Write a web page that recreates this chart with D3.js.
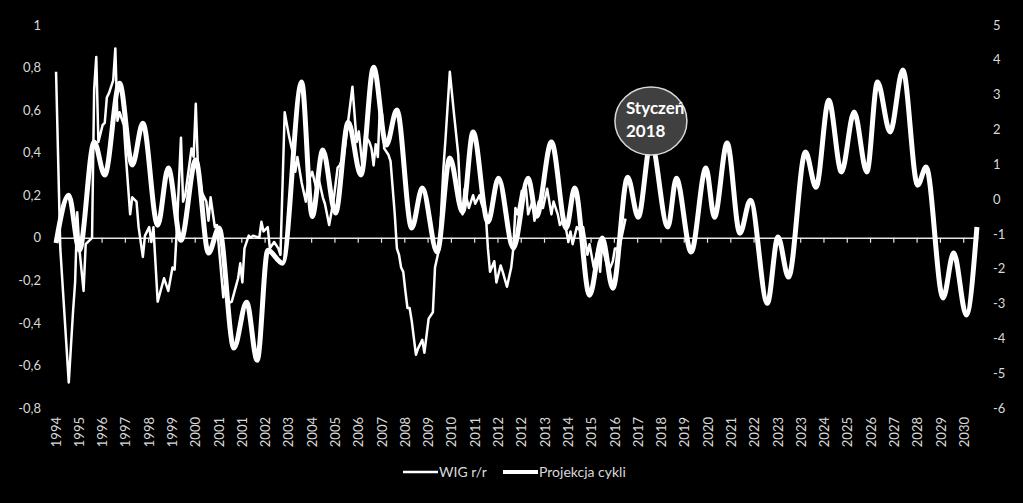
<!DOCTYPE html>
<html>
<head>
<meta charset="utf-8">
<script src="https://cdn.jsdelivr.net/npm/d3@7"></script>
<style>
    body { margin: 0; background: #000; }
    svg { display: block; }
</style>
</head>
<body>
<div id="chart"></div>
<script>
// category labels, one every 11 months (Excel label interval)
const xLabels = ['1994', '1995', '1996', '1997', '1998', '1999', '2000', '2001', '2001', '2002',
    '2003', '2004', '2005', '2006', '2007', '2008', '2009', '2010', '2011', '2012',
    '2012', '2013', '2014', '2015', '2016', '2017', '2018', '2019', '2020', '2021',
    '2022', '2023', '2023', '2024', '2025', '2026', '2027', '2028', '2029', '2030'];
const monthCount = 436;   // monthly categories, Aug 1994 .. Nov 2030
const labelStep = 11;

const leftTicks = [1, 0.8, 0.6, 0.4, 0.2, 0, -0.2, -0.4, -0.6, -0.8];
const rightTicks = [5, 4, 3, 2, 1, 0, -1, -2, -3, -4, -5, -6];

// WIG r/r  [month index, value]  (left axis)
const wigData = [
    [0, 0.78], [2, -0.05], [6, -0.68], [8, -0.35], [9, -0.21], [10, 0.12], [11, -0.05], [13, -0.25],
    [14, -0.03], [17, 0.00], [18, 0.70], [19, 0.85], [20, 0.45], [22, 0.53], [23, 0.54], [24, 0.66],
    [25, 0.68], [27, 0.74], [28, 0.89], [29, 0.55], [30, 0.59], [32, 0.53], [33, 0.38], [35, 0.11],
    [36, 0.19], [38, 0.17], [39, 0.05], [41, -0.09], [42, 0.01], [44, 0.05], [45, -0.02], [46, 0.05],
    [48, -0.30], [51, -0.19], [53, -0.25], [55, -0.14], [56, -0.15], [57, 0.03], [59, 0.47], [60, 0.17],
    [61, 0.20], [64, 0.42], [65, 0.38], [66, 0.63], [67, 0.34], [69, 0.21], [71, 0.17], [72, 0.08],
    [73, 0.19], [75, 0.05], [76, 0.06], [79, -0.28], [80, -0.21], [81, -0.31], [83, -0.30], [86, -0.19],
    [87, -0.12], [88, -0.21], [89, -0.05], [91, 0.01], [92, 0.00], [93, 0.01], [96, 0.00], [97, 0.075],
    [98, 0.03], [100, 0.05], [101, -0.05], [103, -0.02], [105, -0.05], [106, -0.08], [108, 0.59], [110, 0.48],
    [112, 0.39], [113, 0.31], [114, 0.38], [116, 0.26], [118, 0.17], [119, 0.26], [121, 0.31], [123, 0.23],
    [124, 0.28], [126, 0.19], [127, 0.16], [129, 0.06], [131, 0.17], [133, 0.33], [134, 0.34], [136, 0.39],
    [138, 0.55], [140, 0.71], [142, 0.45], [143, 0.50], [145, 0.31], [146, 0.48], [148, 0.45], [149, 0.42],
    [150, 0.34], [151, 0.44], [152, 0.38], [153, 0.62], [154, 0.58], [155, 0.42], [157, 0.39], [158, 0.36],
    [160, 0.11], [161, -0.05], [162, -0.08], [163, -0.14], [164, -0.16], [165, -0.25], [166, -0.33], [167, -0.33],
    [168, -0.39], [170, -0.55], [171, -0.52], [173, -0.48], [174, -0.54], [176, -0.38], [178, -0.35], [179, -0.14],
    [181, -0.05], [183, 0.33], [184, 0.47], [186, 0.78], [188, 0.58], [190, 0.39], [191, 0.17], [192, 0.11],
    [193, 0.23], [195, 0.14], [197, 0.20], [198, 0.16], [200, 0.20], [201, 0.16], [203, 0.11], [204, -0.05],
    [205, -0.16], [207, -0.11], [208, -0.21], [210, -0.13], [211, -0.16], [213, -0.23], [215, -0.14], [216, -0.05],
    [217, 0.14], [218, 0.11], [220, 0.22], [222, 0.23], [223, 0.11], [225, 0.17], [226, 0.08], [228, 0.17],
    [230, 0.14], [232, 0.23], [234, 0.11], [235, 0.17], [237, 0.11], [238, 0.06], [240, 0.09], [242, -0.02],
    [243, 0.03], [244, -0.03], [246, 0.05], [248, 0.03], [249, 0.05], [251, -0.08], [252, -0.03], [254, -0.14],
    [256, -0.05], [257, -0.16], [258, -0.02], [259, -0.08], [261, -0.16], [263, -0.11], [264, -0.05], [266, -0.05],
    [269, 0.09]
];

// Projekcja cykli  [month index, value]  (right axis), turning points of the smoothed curve
const projData = [
    [0, -1.26], [6, 0.11], [11, -1.47], [18, 1.64], [23, 0.69], [30, 3.33], [36, 0.98], [41, 2.18],
    [48, -0.75], [53, 0.89], [59, -1.18], [66, 1.12], [72, -1.55], [77, -0.83], [84, -4.28], [90, -2.96],
    [95, -4.63], [100, -1.47], [107, -1.84], [116, 3.36], [121, -0.50], [126, 1.41], [132, -0.40], [138, 2.21],
    [144, 0.69], [150, 3.79], [156, 1.55], [161, 2.56], [168, -0.83], [173, 0.32], [180, -1.52], [186, 1.18],
    [192, -0.37], [197, 1.93], [204, -0.66], [209, 0.60], [216, -1.41], [223, 0.60], [227, -0.49], [234, 1.64],
    [241, -0.83], [245, 0.32], [252, -2.76], [258, -1.12], [263, -2.56], [270, 0.63], [275, -0.52], [281, 1.64],
    [289, -0.80], [293, 0.60], [300, -1.52], [307, 0.89], [311, -0.52], [317, 1.61], [323, -0.98], [328, -0.03],
    [336, -2.99], [341, -1.09], [346, -2.24], [354, 1.35], [359, 0.34], [365, 2.84], [371, 0.78], [377, 2.50],
    [383, 0.78], [388, 3.36], [394, 1.93], [400, 3.71], [407, 0.40], [411, 0.92], [419, -2.84], [424, -1.55],
    [430, -3.33], [435, -0.80]
];

const calloutMonth = 281;   // Styczeń 2018
const calloutLines = ['Styczeń', '2018'];

var drawChart = function () {
    const width = 1023;
    const height = 503;
    const textColor = '#d9d9d9';
    const font = 'Lato, Carlito, Calibri, sans-serif';

    const svg = d3.select('#chart')
        .append('svg')
        .attr('width', width)
        .attr('height', height)
        .style('background', '#000');

    const x = d3.scaleLinear().domain([-0.5, monthCount - 0.5]).range([55, 978]);
    const yLeft = d3.scaleLinear().domain([-0.8, 1]).range([408, 25]);
    const yRight = d3.scaleLinear().domain([-6, 5]).range([408, 25]);

    // Polish style numbers: comma decimal, plain hyphen minus
    const fmt = d => String(d).replace('.', ',');

    // left axis labels
    const gl = svg.append('g')
        .attr('transform', 'translate(44,0)')
        .call(d3.axisLeft(yLeft).tickValues(leftTicks).tickSize(0).tickPadding(3).tickFormat(fmt));
    gl.select('.domain').remove();
    gl.selectAll('text').attr('fill', textColor).style('font', '13px ' + font);

    // right axis labels
    const gr = svg.append('g')
        .attr('transform', 'translate(990,0)')
        .call(d3.axisRight(yRight).tickValues(rightTicks).tickSize(0).tickPadding(3).tickFormat(fmt));
    gr.select('.domain').remove();
    gr.selectAll('text').attr('fill', textColor).style('font', '13px ' + font);

    // horizontal axis at zero of the left scale
    const tickPos = xLabels.map((d, k) => k * labelStep - 0.5);
    const gx = svg.append('g')
        .attr('transform', 'translate(0,' + yLeft(0) + ')')
        .call(d3.axisBottom(x).tickValues(tickPos).tickSize(5).tickSizeOuter(0).tickFormat(''));
    gx.select('.domain').attr('stroke', '#e6e6e6').attr('stroke-width', 1.6);
    gx.selectAll('.tick line').attr('stroke', '#e6e6e6').attr('stroke-width', 1.2);

    // category labels, low position, rotated
    svg.append('g').selectAll('text')
        .data(xLabels)
        .enter().append('text')
        .attr('transform', (d, k) => 'translate(' + x(k * labelStep) + ',417) rotate(-90)')
        .attr('text-anchor', 'end')
        .attr('dy', '0.35em')
        .attr('fill', textColor)
        .style('font', '13px ' + font)
        .text(d => d);

    // series
    const wigLine = d3.line()
        .x(d => x(d[0]))
        .y(d => yLeft(d[1]));

    const projLine = d3.line()
        .x(d => x(d[0]))
        .y(d => yRight(d[1]))
        .curve(d3.curveMonotoneX);

    svg.append('path')
        .datum(wigData)
        .attr('d', wigLine)
        .attr('fill', 'none')
        .attr('stroke', '#fff')
        .attr('stroke-width', 2.5)
        .attr('stroke-linejoin', 'round');

    svg.append('path')
        .datum(projData)
        .attr('d', projLine)
        .attr('fill', 'none')
        .attr('stroke', '#fff')
        .attr('stroke-width', 5)
        .attr('stroke-linejoin', 'round');

    // callout bubble
    const cx = x(calloutMonth);
    const callout = svg.append('g');
    callout.append('ellipse')
        .attr('cx', cx)
        .attr('cy', 121)
        .attr('rx', 36)
        .attr('ry', 34)
        .attr('fill', '#404040')
        .attr('stroke', '#d9d9d9')
        .attr('stroke-width', 1.5);
    callout.selectAll('text')
        .data(calloutLines)
        .enter().append('text')
        .attr('x', cx - 25)
        .attr('y', (d, i) => 114 + i * 23)
        .attr('fill', '#fff')
        .style('font', 'bold 17px ' + font)
        .text(d => d);

    // legend
    const legend = svg.append('g').attr('transform', 'translate(0,472)');
    const items = [
        { name: 'WIG r/r', x0: 403, w: 2.5 },
        { name: 'Projekcja cykli', x0: 503, w: 4 }
    ];
    items.forEach(it => {
        legend.append('line')
            .attr('x1', it.x0)
            .attr('x2', it.x0 + 35)
            .attr('y1', 0)
            .attr('y2', 0)
            .attr('stroke', '#fff')
            .attr('stroke-width', it.w);
        legend.append('text')
            .attr('x', it.x0 + 36)
            .attr('dy', '0.35em')
            .attr('fill', textColor)
            .style('font', '14px ' + font)
            .text(it.name);
    });
};

drawChart();
</script>
</body>
</html>
